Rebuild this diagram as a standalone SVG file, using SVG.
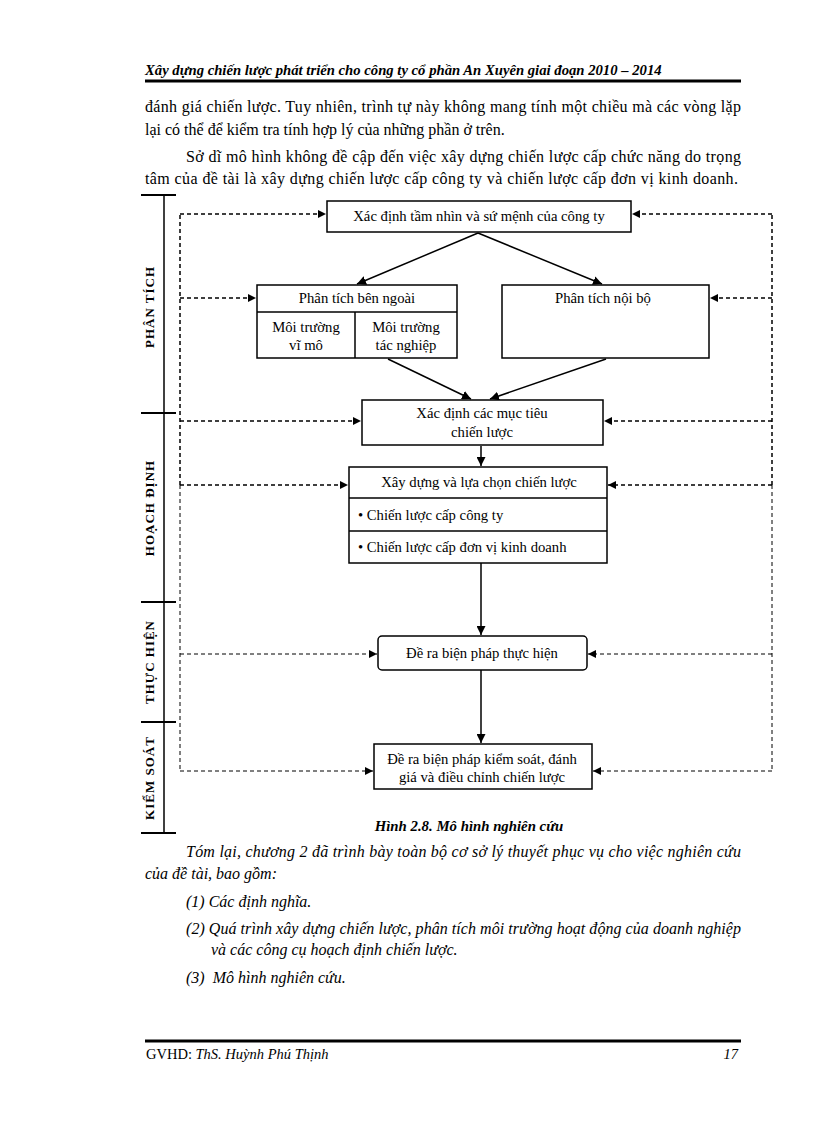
<svg xmlns="http://www.w3.org/2000/svg" width="816" height="1123" viewBox="0 0 816 1123">
<defs>
<marker id="ah" viewBox="0 0 10 10" refX="10" refY="5" markerWidth="9" markerHeight="9" markerUnits="userSpaceOnUse" orient="auto">
<path d="M0,0 L10,5 L0,10 z" fill="#000"/>
</marker>
<marker id="ahd" viewBox="0 0 10 10" refX="10" refY="5" markerWidth="8" markerHeight="8" markerUnits="userSpaceOnUse" orient="auto">
<path d="M0,0 L10,5 L0,10 z" fill="#000"/>
</marker>
</defs>
<style>
.t{font-family:"Liberation Serif","Times New Roman",serif;fill:#000}
.body{font-size:16px}
.it{font-style:italic}
.bx{fill:#fff;stroke:#000;stroke-width:1.5}
.bl{font-size:14.7px}
.lab{font-size:13px;font-weight:bold;letter-spacing:1px}
.sol{stroke:#000;stroke-width:1.5;fill:none}
.dsh{stroke:#000;stroke-width:1.5;fill:none;stroke-dasharray:4 3}
.dsh2{stroke:#000;stroke-width:1;fill:none;stroke-dasharray:4 3}
</style>
<rect width="816" height="1123" fill="#fff"/>

<g id="header">
<text class="t" x="145" y="75" font-size="14.7" font-weight="bold" font-style="italic">Xây dựng chiến lược phát triển cho công ty cổ phần An Xuyên giai đoạn 2010 – 2014</text>
<line x1="145" y1="81" x2="741" y2="81" stroke="#000" stroke-width="3"/>
</g>

<g id="intro">
<text class="t body" x="145" y="112" textLength="596" lengthAdjust="spacing">đánh giá chiến lược. Tuy nhiên, trình tự này không mang tính một chiều mà các vòng lặp</text>
<text class="t body" x="145" y="135">lại có thể để kiểm tra tính hợp lý của những phần ở trên.</text>
<text class="t body" x="186" y="162" textLength="555" lengthAdjust="spacing">Sở dĩ mô hình không đề cập đến việc xây dựng chiến lược cấp chức năng do trọng</text>
<text class="t body" x="145" y="184" textLength="593" lengthAdjust="spacing">tâm của đề tài là xây dựng chiến lược cấp công ty và chiến lược cấp đơn vị kinh doanh.</text>
</g>

<g id="phase-axis">
<line x1="164" y1="195" x2="164" y2="833" stroke="#000" stroke-width="1.5"/>
<line x1="141" y1="195" x2="176" y2="195" stroke="#000" stroke-width="2"/>
<line x1="141" y1="413" x2="176" y2="413" stroke="#000" stroke-width="2"/>
<line x1="141" y1="602" x2="176" y2="602" stroke="#000" stroke-width="2"/>
<line x1="141" y1="722" x2="176" y2="722" stroke="#000" stroke-width="2"/>
<line x1="141" y1="833" x2="176" y2="833" stroke="#000" stroke-width="2"/>
<text class="t lab" transform="translate(154,307) rotate(-90)" text-anchor="middle">PHÂN TÍCH</text>
<text class="t lab" transform="translate(154,508) rotate(-90)" text-anchor="middle">HOẠCH ĐỊNH</text>
<text class="t lab" transform="translate(154,662) rotate(-90)" text-anchor="middle">THỰC HIỆN</text>
<text class="t lab" transform="translate(154,778) rotate(-90)" text-anchor="middle">KIỂM SOÁT</text>
</g>

<g id="connectors">
<line class="sol" x1="478" y1="233" x2="357" y2="284" marker-end="url(#ah)"/>
<line class="sol" x1="478" y1="233" x2="602" y2="284" marker-end="url(#ah)"/>
<line class="sol" x1="388" y1="359" x2="471" y2="399" marker-end="url(#ah)"/>
<line class="sol" x1="606" y1="359" x2="490" y2="399" marker-end="url(#ah)"/>
<line class="sol" x1="481" y1="446" x2="481" y2="466" marker-end="url(#ah)"/>
<line class="sol" x1="481" y1="563" x2="481" y2="635" marker-end="url(#ah)"/>
<line class="sol" x1="481" y1="670" x2="481" y2="743" marker-end="url(#ah)"/>
<path class="dsh" d="M180,485 L180,214"/>
<path class="dsh2" d="M180,485 L180,771"/>
<line class="dsh" x1="180" y1="214" x2="326" y2="214" marker-end="url(#ahd)"/>
<line class="dsh" x1="180" y1="298" x2="256" y2="298" marker-end="url(#ahd)"/>
<line class="dsh" x1="180" y1="421" x2="361" y2="421" marker-end="url(#ahd)"/>
<line class="dsh" x1="180" y1="485" x2="348" y2="485" marker-end="url(#ahd)"/>
<line class="dsh2" x1="180" y1="654" x2="377" y2="654" marker-end="url(#ahd)"/>
<line class="dsh2" x1="180" y1="771" x2="373" y2="771" marker-end="url(#ahd)"/>
<path class="dsh" d="M772,485 L772,214"/>
<path class="dsh2" d="M772,485 L772,771"/>
<line class="dsh" x1="772" y1="214" x2="632" y2="214" marker-end="url(#ahd)"/>
<line class="dsh" x1="772" y1="298" x2="710" y2="298" marker-end="url(#ahd)"/>
<line class="dsh" x1="772" y1="421" x2="604" y2="421" marker-end="url(#ahd)"/>
<line class="dsh" x1="772" y1="485" x2="608" y2="485" marker-end="url(#ahd)"/>
<line class="dsh2" x1="772" y1="654" x2="588" y2="654" marker-end="url(#ahd)"/>
<line class="dsh2" x1="772" y1="771" x2="593" y2="771" marker-end="url(#ahd)"/>
</g>

<g id="n-vision">
<rect class="bx" x="327" y="201" width="304" height="31"/>
<text class="t bl" x="479" y="221" text-anchor="middle">Xác định tầm nhìn và sứ mệnh của công ty</text>
</g>

<g id="n-external">
<rect class="bx" x="257" y="285" width="200" height="73"/>
<line x1="257" y1="312" x2="457" y2="312" stroke="#000" stroke-width="1.5"/>
<line x1="355" y1="312" x2="355" y2="358" stroke="#000" stroke-width="1.5"/>
<text class="t bl" x="357" y="303" text-anchor="middle">Phân tích bên ngoài</text>
<text class="t bl" x="306" y="332" text-anchor="middle">Môi trường</text>
<text class="t bl" x="306" y="350" text-anchor="middle">vĩ mô</text>
<text class="t bl" x="406" y="332" text-anchor="middle">Môi trường</text>
<text class="t bl" x="406" y="350" text-anchor="middle">tác nghiệp</text>
</g>

<g id="n-internal">
<rect class="bx" x="502" y="285" width="207" height="73"/>
<text class="t bl" x="603" y="303" text-anchor="middle">Phân tích nội bộ</text>
</g>

<g id="n-objectives">
<rect class="bx" x="362" y="400" width="241" height="45"/>
<text class="t bl" x="482" y="418" text-anchor="middle">Xác định các mục tiêu</text>
<text class="t bl" x="482" y="437" text-anchor="middle">chiến lược</text>
</g>

<g id="n-strategy">
<rect class="bx" x="349" y="467" width="258" height="96"/>
<line x1="349" y1="498" x2="607" y2="498" stroke="#000" stroke-width="1.5"/>
<line x1="349" y1="531" x2="607" y2="531" stroke="#000" stroke-width="1.5"/>
<text class="t bl" x="479" y="487" text-anchor="middle">Xây dựng và lựa chọn chiến lược</text>
<text class="t bl" x="358" y="520">• Chiến lược cấp công ty</text>
<text class="t bl" x="358" y="552">• Chiến lược cấp đơn vị kinh doanh</text>
</g>

<g id="n-implement">
<rect class="bx" x="378" y="636" width="209" height="34" rx="4"/>
<text class="t bl" x="482" y="658" text-anchor="middle">Đề ra biện pháp thực hiện</text>
</g>

<g id="n-control">
<rect class="bx" x="374" y="744" width="218" height="45" stroke-width="2"/>
<text class="t bl" x="482" y="764" text-anchor="middle">Đề ra biện pháp kiểm soát, đánh</text>
<text class="t bl" x="482" y="782" text-anchor="middle">giá và điều chỉnh chiến lược</text>
</g>

<g id="caption">
<text class="t" x="469" y="831" font-size="14.8" font-weight="bold" font-style="italic" text-anchor="middle">Hình 2.8. Mô hình nghiên cứu</text>
</g>

<g id="summary">
<text class="t body it" x="186" y="857" textLength="555" lengthAdjust="spacing">Tóm lại, chương 2 đã trình bày toàn bộ cơ sở lý thuyết phục vụ cho việc nghiên cứu</text>
<text class="t body it" x="145" y="879">của đề tài, bao gồm:</text>
<text class="t body it" x="186" y="907">(1) Các định nghĩa.</text>
<text class="t body it" x="186" y="934" textLength="555" lengthAdjust="spacing">(2) Quá trình xây dựng chiến lược, phân tích môi trường hoạt động của doanh nghiệp</text>
<text class="t body it" x="211" y="955">và các công cụ hoạch định chiến lược.</text>
<text class="t body it" x="186" y="983" xml:space="preserve">(3)  Mô hình nghiên cứu.</text>
</g>

<g id="footer">
<line x1="145" y1="1041" x2="741" y2="1041" stroke="#000" stroke-width="3"/>
<text class="t" x="146" y="1059" font-size="14.5">GVHD: <tspan font-style="italic">ThS. Huỳnh Phú Thịnh</tspan></text>
<text class="t" x="738" y="1059" font-size="14.5" font-style="italic" text-anchor="end">17</text>
</g>
</svg>
